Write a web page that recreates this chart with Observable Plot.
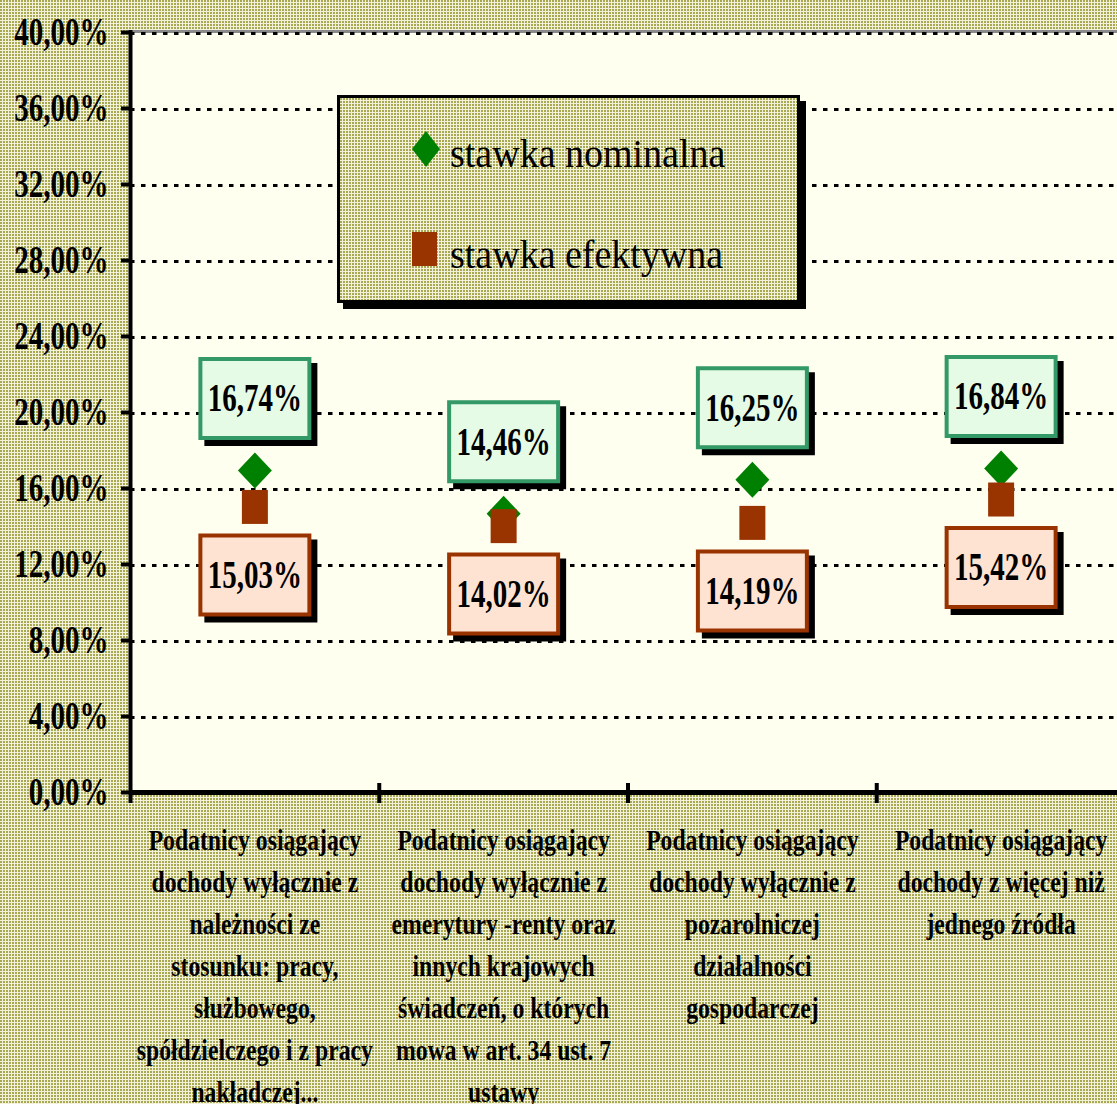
<!DOCTYPE html>
<html>
<head>
<meta charset="utf-8">
<script src="https://cdn.jsdelivr.net/npm/d3@7"></script>
<script src="https://cdn.jsdelivr.net/npm/@observablehq/plot@0.6"></script>
<style>
  html, body { margin: 0; padding: 0; overflow: hidden; }
  body {
    width: 1117px; height: 1104px;
    background-color: #d4d4a4;
    background-image: url("data:image/svg+xml,%3Csvg xmlns='http://www.w3.org/2000/svg' width='3' height='3'%3E%3Crect width='3' height='3' fill='%23f2f2da'/%3E%3Crect width='2' height='2' fill='%23a8a852'/%3E%3C/svg%3E");
  }
  #wrap { position: relative; width: 1117px; height: 1104px; overflow: hidden; }
  #chart { position: absolute; left: 0; top: 0; width: 1125px; }
  #chart svg { max-width: none !important; }
  #legend {
    position: absolute; left: 337px; top: 95px; width: 457px; height: 202px;
    border: 3px solid #000; box-shadow: 6px 6px 0 #000;
    background-color: #d4d4a4;
    background-image: url("data:image/svg+xml,%3Csvg xmlns='http://www.w3.org/2000/svg' width='3' height='3'%3E%3Crect width='3' height='3' fill='%23f2f2da'/%3E%3Crect width='2' height='2' fill='%23a8a852'/%3E%3C/svg%3E");
  }
</style>
</head>
<body>
<div id="wrap">
  <div id="chart"></div>
  <div id="legend"></div>
</div>
<script>
// ---- data ----
const categories = [
  "Podatnicy osiągający\ndochody wyłącznie z\nnależności ze\nstosunku: pracy,\nsłużbowego,\nspółdzielczego i z pracy\nnakładczej...",
  "Podatnicy osiągający\ndochody wyłącznie z\nemerytury -renty oraz\ninnych krajowych\nświadczeń, o których\nmowa w art. 34 ust. 7\nustawy",
  "Podatnicy osiągający\ndochody wyłącznie z\npozarolniczej\ndziałalności\ngospodarczej",
  "Podatnicy osiągający\ndochody z więcej niż\njednego źródła"
];
const nominal = [16.74, 14.46, 16.25, 16.84];
const effective = [15.03, 14.02, 14.19, 15.42];
const yTicks = [0, 4, 8, 12, 16, 20, 24, 28, 32, 36, 40];
const seriesNames = ["stawka nominalna", "stawka efektywna"];

// ---- derived table ----
const rows = categories.map((c, i) => ({cat: c, pos: i + 0.5, nominal: nominal[i], effective: effective[i]}));
const separators = categories.map((c, i) => i + 1);
const fmtPct = v => v.toFixed(2).replace(".", ",") + "%";

const boxSym = {draw(ctx) { ctx.rect(-54.5, -39.5, 109, 79); }};
const diamondSym = {draw(ctx) { ctx.moveTo(0, -18); ctx.lineTo(17, 0); ctx.lineTo(0, 18); ctx.lineTo(-17, 0); ctx.closePath(); }};
const squareSym = {draw(ctx) { ctx.rect(-13, -17, 26, 34); }};

const GREEN = "#008000", BROWN = "#993300";

const chart = Plot.plot({
  width: 1125, height: 1104,
  marginLeft: 130, marginRight: 0, marginTop: 32, marginBottom: 312,
  style: {background: "transparent", maxWidth: "none", fontFamily: "'Liberation Serif', 'Times New Roman', serif", color: "#000"},
  x: {domain: [0, categories.length], axis: null},
  y: {domain: [0, 40]},
  marks: [
    Plot.frame({fill: "#fffff0", stroke: null}),
    Plot.ruleY([40], {stroke: "#8a8a8a", strokeWidth: 3, dy: -1}),
    Plot.ruleY(yTicks.filter(d => d > 0), {stroke: "#000", strokeWidth: 3, strokeDasharray: "4.5,6.5", dy: 1}),
    Plot.ruleY([0], {stroke: "#000", strokeWidth: 5}),
    Plot.ruleX([0], {stroke: "#000", strokeWidth: 4, insetTop: -2, insetBottom: -11}),
    Plot.ruleX(separators, {y1: 0, y2: 0, stroke: "#000", strokeWidth: 4, insetTop: -9, insetBottom: -11}),
    Plot.axisY({ticks: yTicks, tickSize: 9, tickPadding: 13, strokeWidth: 4, tickFormat: fmtPct,
                fontSize: 40, fontWeight: "bold", label: null}),
    Plot.text(rows, {x: "pos", y: 0, text: "cat", lineAnchor: "top", lineHeight: 1.4, dy: 28,
                     fontSize: 30, fontWeight: "bold"}),
    // nominal label boxes
    Plot.dot(rows, {x: "pos", y: "nominal", symbol: boxSym, fill: "#000", stroke: "#000", strokeWidth: 4, dx: 6, dy: -70}),
    Plot.dot(rows, {x: "pos", y: "nominal", symbol: boxSym, fill: "#e6fbe6", stroke: "#339966", strokeWidth: 4, dy: -76}),
    Plot.text(rows, {x: "pos", y: "nominal", text: d => fmtPct(d.nominal), dy: -76, fontSize: 40, fontWeight: "bold"}),
    // effective label boxes
    Plot.dot(rows, {x: "pos", y: "effective", symbol: boxSym, fill: "#000", stroke: "#000", strokeWidth: 4, dx: 6, dy: 74}),
    Plot.dot(rows, {x: "pos", y: "effective", symbol: boxSym, fill: "#ffe3d2", stroke: BROWN, strokeWidth: 4, dy: 68}),
    Plot.text(rows, {x: "pos", y: "effective", text: d => fmtPct(d.effective), dy: 68, fontSize: 40, fontWeight: "bold"}),
    // markers
    Plot.dot(rows, {x: "pos", y: "nominal", symbol: diamondSym, fill: GREEN, stroke: null, dy: -4}),
    Plot.dot(rows, {x: "pos", y: "effective", symbol: squareSym, fill: BROWN, stroke: null})
  ]
});

// horizontally condense text to mimic the narrow bold serif of the original
chart.querySelectorAll("text").forEach(t => {
  const g = t.closest("[font-size]");
  const fs = g ? parseFloat(g.getAttribute("font-size")) : 40;
  const s = fs < 35 ? 0.79 : 0.725;
  const tr = t.getAttribute("transform");
  if (tr) {
    t.setAttribute("transform", tr + ` scale(${s},1)`);
  } else {
    const x = +(t.getAttribute("x") || 0), y = +(t.getAttribute("y") || 0);
    t.removeAttribute("x"); t.removeAttribute("y");
    t.setAttribute("transform", `translate(${x},${y}) scale(${s},1)`);
  }
});
document.getElementById("chart").appendChild(chart);

// legend (inside plot area, like the original)
const lg = d3.select("#legend").append("svg").attr("width", 457).attr("height", 202)
  .style("display", "block").style("font-family", "'Liberation Serif', 'Times New Roman', serif");
lg.append("path").attr("d", "M86,33 L100,51 L86,69 L72,51 Z").attr("fill", GREEN);
lg.append("text").attr("transform", "translate(110,69) scale(0.95,1)").attr("font-size", 40).text(seriesNames[0]);
lg.append("rect").attr("x", 72).attr("y", 134).attr("width", 25).attr("height", 34).attr("fill", BROWN);
lg.append("text").attr("transform", "translate(110,170) scale(0.95,1)").attr("font-size", 40).text(seriesNames[1]);
</script>
</body>
</html>
